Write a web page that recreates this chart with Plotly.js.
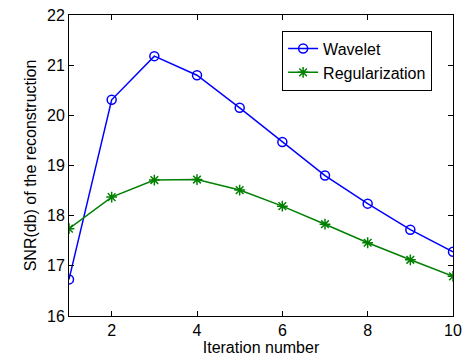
<!DOCTYPE html>
<html><head><meta charset="utf-8">
<script src="https://cdn.plot.ly/plotly-3.0.1.min.js"></script>
<style>html,body{margin:0;padding:0;background:#fff;}#chart{width:465px;height:357px;}</style>
</head><body><div id="chart"></div>
<script>
const iterations = [1,2,3,4,5,6,7,8,9,10];
const waveletSNR = [16.73,20.31,21.18,20.80,20.15,19.47,18.80,18.24,17.72,17.28];
const regularizationSNR = [17.74,18.37,18.71,18.72,18.51,18.19,17.83,17.46,17.12,16.79];
const xTicks = [2,4,6,8,10];
const yTicks = [16,17,18,19,20,21,22];

const traces = [
  {x: iterations, y: waveletSNR, name: 'Wavelet', type: 'scatter', mode: 'lines+markers',
   line: {color: '#0000ff', width: 1.5},
   marker: {symbol: 'circle-open', size: 9, color: '#0000ff', line: {color: '#0000ff', width: 1.5}}},
  {x: iterations, y: regularizationSNR, name: 'Regularization', type: 'scatter', mode: 'lines+markers',
   line: {color: '#008000', width: 1.5},
   marker: {symbol: 'asterisk-open', size: 9, color: '#008000', line: {color: '#008000', width: 1.5}}}
];
const axisCommon = {showgrid: false, zeroline: false, showline: true, mirror: 'ticks', linecolor: '#000', linewidth: 1,
  ticks: 'inside', ticklen: 5, tickcolor: '#000', tickfont: {family: 'Liberation Sans, Arial', size: 16, color: '#000'}};
const layout = {
  width: 465, height: 357,
  margin: {l: 69, r: 12, t: 15, b: 41},
  paper_bgcolor: '#fff', plot_bgcolor: '#fff',
  font: {family: 'Liberation Sans, Arial', size: 16, color: '#000'},
  xaxis: Object.assign({}, axisCommon, {range: [1,10], tickvals: xTicks,
    title: {text: 'Iteration number', font: {size: 16}, standoff: 2}}),
  yaxis: Object.assign({}, axisCommon, {range: [16,22], tickvals: yTicks,
    title: {text: 'SNR(db) of the reconstruction', font: {size: 16}, standoff: 6}}),
  showlegend: true,
  legend: {x: 0.555, y: 0.948, xanchor: 'left', yanchor: 'top', bgcolor: '#fff', bordercolor: '#000', borderwidth: 1,
    font: {size: 16}, tracegroupgap: 0, itemwidth: 30}
};
Plotly.newPlot('chart', traces, layout, {displayModeBar: false, staticPlot: true});
</script></body></html>
